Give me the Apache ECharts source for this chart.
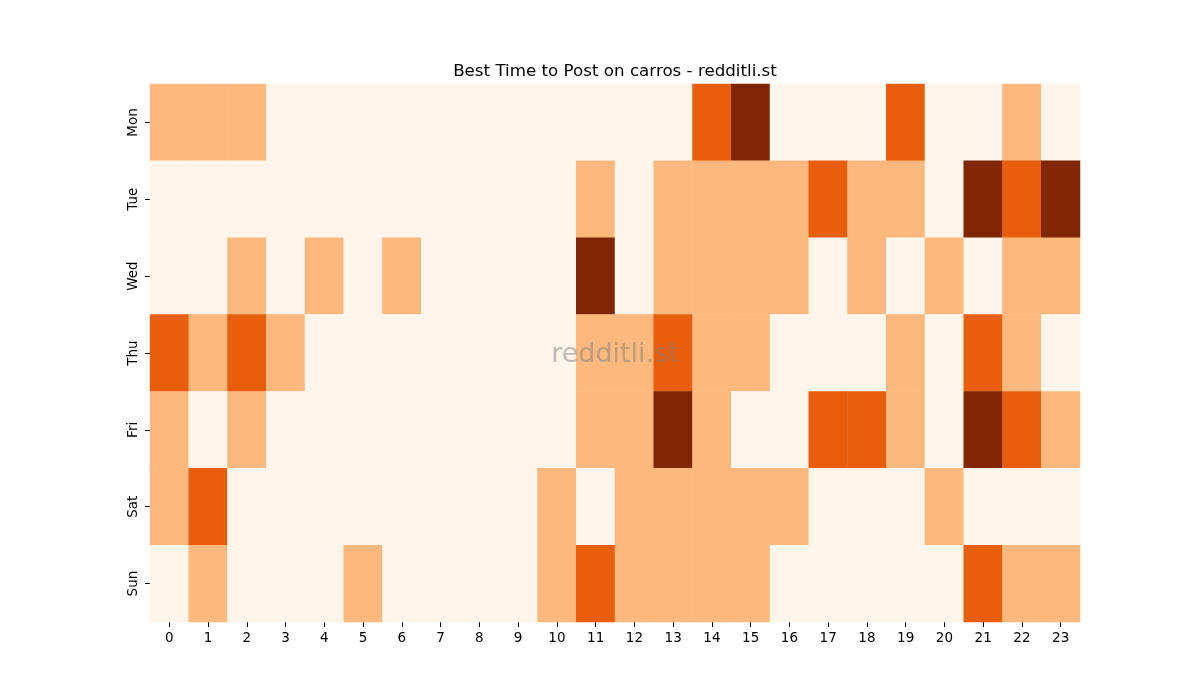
<!DOCTYPE html>
<html>
<head>
<meta charset="utf-8">
<script src="https://cdn.jsdelivr.net/npm/echarts@6/dist/echarts.min.js"></script>
<style>
  html, body { margin: 0; padding: 0; background: #fff; }
  #chart { width: 1200px; height: 700px; }
</style>
</head>
<body>
<div id="chart"></div>
<script>
const hours = ['0','1','2','3','4','5','6','7','8','9','10','11','12','13','14','15','16','17','18','19','20','21','22','23'];
const days = ['Mon', 'Tue', 'Wed', 'Thu', 'Fri', 'Sat', 'Sun'];

// activity level per hour (0 = low … 3 = high)
const mon = [1,1,1,0,0,0,0,0,0,0,0,0,0,0,2,3,0,0,0,2,0,0,1,0];
const tue = [0,0,0,0,0,0,0,0,0,0,0,1,0,1,1,1,1,2,1,1,0,3,2,3];
const wed = [0,0,1,0,1,0,1,0,0,0,0,3,0,1,1,1,1,0,1,0,1,0,1,1];
const thu = [2,1,2,1,0,0,0,0,0,0,0,1,1,2,1,1,0,0,0,1,0,2,1,0];
const fri = [1,0,1,0,0,0,0,0,0,0,0,1,1,3,1,0,0,2,2,1,0,3,2,1];
const sat = [1,2,0,0,0,0,0,0,0,0,1,0,1,1,1,1,1,0,0,0,1,0,0,0];
const sun = [0,1,0,0,0,1,0,0,0,0,1,2,1,1,1,1,0,0,0,0,0,2,1,1];

const rows = [mon, tue, wed, thu, fri, sat, sun];
const data = [];
rows.forEach((row, d) => row.forEach((v, h) => data.push([h, d, v])));

const font = 'DejaVu Sans';
const chart = echarts.init(document.getElementById('chart'));
chart.setOption({
  animation: false,
  textStyle: { fontFamily: font },
  grid: { left: 150, right: 120, top: 84, bottom: 78 },
  xAxis: {
    type: 'category',
    data: hours,
    axisLine: { show: false },
    axisTick: { show: true, alignWithLabel: true, length: 5, lineStyle: { color: '#000' } },
    axisLabel: { color: '#000', fontSize: 13.5, margin: 9, interval: 0 },
    splitLine: { show: false },
  },
  yAxis: {
    type: 'category',
    data: days,
    inverse: true,
    axisLine: { show: false },
    axisTick: { show: true, alignWithLabel: true, length: 5, lineStyle: { color: '#000' } },
    axisLabel: { color: '#000', fontSize: 13.5, rotate: 90, margin: 10 },
    splitLine: { show: false },
  },
  visualMap: {
    show: false,
    type: 'piecewise',
    dimension: 2,
    pieces: [
      { value: 0, color: '#fff5eb' },
      { value: 1, color: '#fdb97d' },
      { value: 2, color: '#e95e0d' },
      { value: 3, color: '#7f2704' },
    ],
  },
  graphic: [{
    type: 'text',
    x: 615,
    y: 72,
    style: {
      text: 'Best Time to Post on carros - redditli.st',
      fontFamily: font,
      fontSize: 16.7,
      fill: '#000',
      align: 'center',
      verticalAlign: 'middle',
    },
  }, {
    type: 'text',
    x: 615,
    y: 355,
    style: {
      text: 'redditli.st',
      fontFamily: font,
      fontSize: 27,
      fill: 'rgba(128,128,128,0.5)',
      align: 'center',
      verticalAlign: 'middle',
    },
    z: 100,
  }],
  series: [{
    type: 'heatmap',
    data: data,
    itemStyle: { borderWidth: 0 },
    emphasis: { disabled: true },
  }],
});
</script>
</body>
</html>
